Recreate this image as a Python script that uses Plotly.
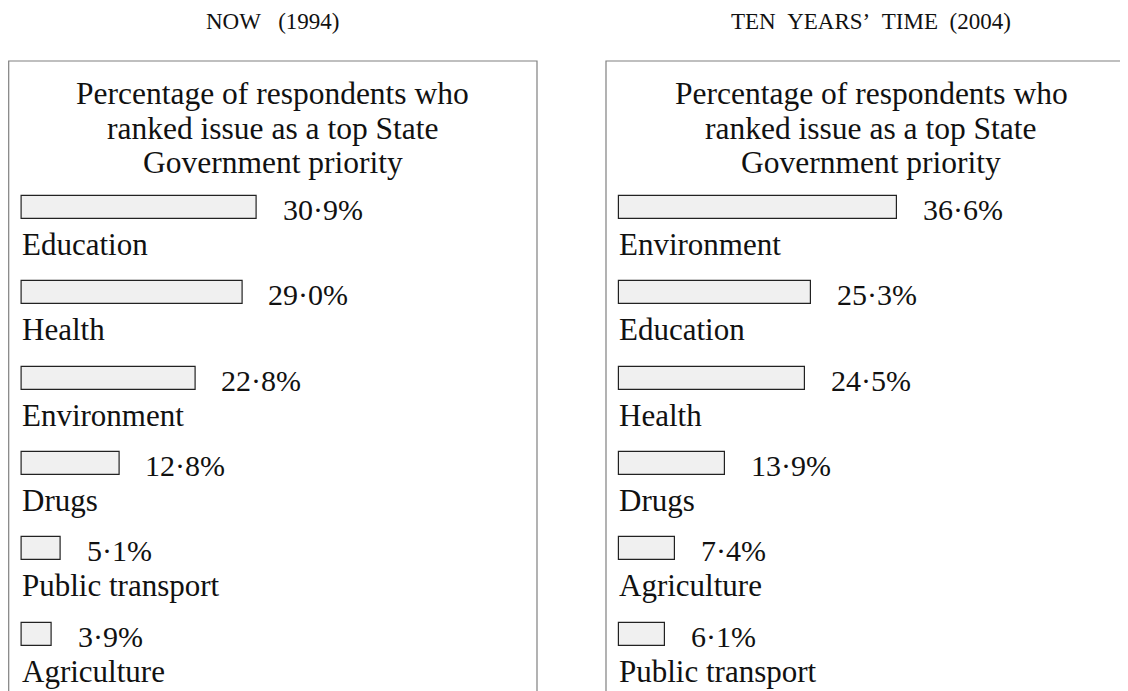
import plotly.graph_objects as go

# ---------------- data ----------------
now_categories = ["Education", "Health", "Environment", "Drugs", "Public transport", "Agriculture"]
now_values = [30.9, 29.0, 22.8, 12.8, 5.1, 3.9]

future_categories = ["Environment", "Education", "Health", "Drugs", "Agriculture", "Public transport"]
future_values = [36.6, 25.3, 24.5, 13.9, 7.4, 6.1]

panel_titles = ["NOW\u00a0\u00a0\u00a0(1994)", "TEN\u00a0\u00a0YEARS\u2019\u00a0\u00a0TIME\u00a0\u00a0(2004)"]
heading_lines = ["Percentage of respondents who", "ranked issue as a top State", "Government priority"]

# ---------------- layout constants (page pixels) ----------------
OFF = 8                      # page body margin: figure origin sits at (8, 8)
W, H = 1128 - OFF, 691 - OFF
FONT = "Liberation Serif, Times New Roman, serif"
PX_PER_PCT = 7.6
ROW_FIRST = 207.5 - OFF
ROW_STEP = 85.3
BAR_PX = 23

panels = [
    dict(cats=now_categories, vals=now_values, box=(8.7 - OFF, 537 - OFF), bar0=22 - OFF,
         cx=272.5 - OFF, title=panel_titles[0]),
    dict(cats=future_categories, vals=future_values, box=(606 - OFF, 1140 - OFF), bar0=619 - OFF,
         cx=871 - OFF, title=panel_titles[1]),
]


def fmt(v):
    return f"{v:.1f}".replace(".", "\u00b7") + "%"


fig = go.Figure()
annotations = []
shapes = []

for i, p in enumerate(panels):
    sfx = "" if i == 0 else str(i + 1)
    xa, ya = "x" + sfx, "y" + sfx
    bl, br = p["box"]
    dl = max(bl, 0)
    dr = min(br, W)
    x0 = -(p["bar0"] - dl) / PX_PER_PCT
    x1 = x0 + (dr - dl) / PX_PER_PCT
    r_top = -ROW_FIRST / ROW_STEP
    r_bot = r_top + H / ROW_STEP

    fig.add_trace(go.Bar(
        x=p["vals"], y=p["cats"], orientation="h",
        xaxis=xa, yaxis=ya,
        width=BAR_PX / ROW_STEP,
        marker=dict(color="#f0f0f0", line=dict(color="#222222", width=1.2)),
        hoverinfo="skip",
    ))

    fig.update_layout(**{
        ("xaxis" + sfx): dict(domain=[dl / W, dr / W], range=[x0, x1], visible=False,
                              fixedrange=True, anchor=ya),
        ("yaxis" + sfx): dict(domain=[0, 1], type="category", categoryorder="array",
                              categoryarray=p["cats"], range=[r_bot, r_top], visible=False,
                              fixedrange=True, anchor=xa),
    })

    for c, v in zip(p["cats"], p["vals"]):
        annotations.append(dict(x=v, y=c, xref=xa, yref=ya, text=fmt(v), showarrow=False,
                                xanchor="left", yanchor="middle", xshift=24, yshift=-2,
                                font=dict(family=FONT, size=30, color="#111")))
        annotations.append(dict(x=0, y=c, xref=xa, yref=ya, text=c, showarrow=False,
                                xanchor="left", yanchor="middle", xshift=-2, yshift=-37,
                                font=dict(family=FONT, size=31, color="#111")))

    cx = p["cx"]
    annotations.append(dict(x=cx / W, y=1 - (22 - OFF) / H, xref="paper", yref="paper",
                            text=p["title"], showarrow=False, xanchor="center", yanchor="middle",
                            font=dict(family=FONT, size=23, color="#111")))
    for k, line in enumerate(heading_lines):
        yc = 94 + 34 * k - OFF
        annotations.append(dict(x=cx / W, y=1 - yc / H, xref="paper", yref="paper", text=line,
                                showarrow=False, xanchor="center", yanchor="middle",
                                font=dict(family=FONT, size=31.5, color="#111")))

    shapes.append(dict(type="rect", xref="paper", yref="paper",
                       x0=bl / W, x1=br / W, y0=-0.05, y1=1 - (61 - OFF) / H,
                       line=dict(color="#808080", width=1.2), fillcolor="rgba(0,0,0,0)",
                       layer="below"))

fig.update_layout(
    width=W, height=H,
    margin=dict(l=0, r=0, t=0, b=0),
    paper_bgcolor="white", plot_bgcolor="white",
    showlegend=False, bargap=0,
    annotations=annotations, shapes=shapes,
)

fig.write_html("out.html")
